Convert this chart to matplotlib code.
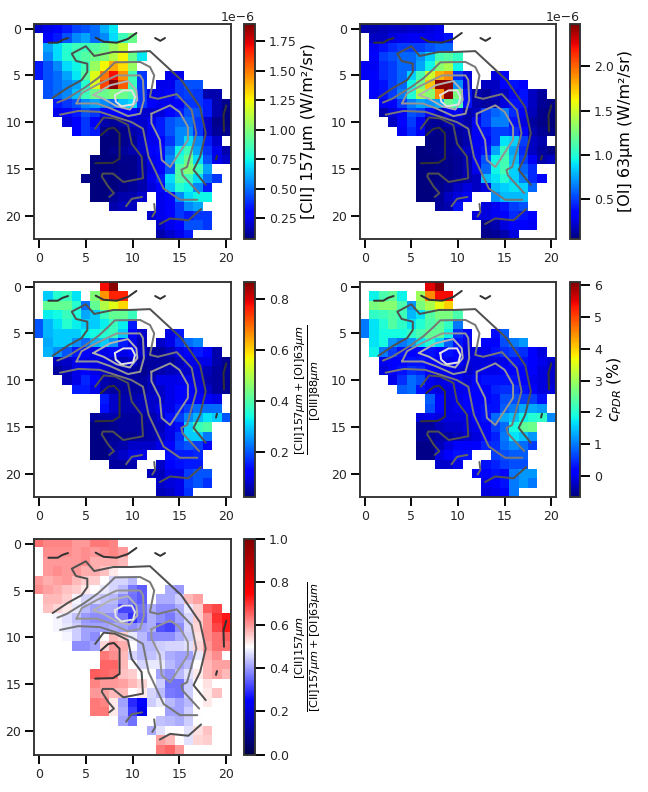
import numpy as np
import matplotlib
matplotlib.use("Agg")
import matplotlib.pyplot as plt

_ = np.nan
W, H = 648, 792

cii = [
[.20,.25,.30,.35,.42,.45,.50,.62,.72],
[_,.30,.35,.45,.55,.60,.50,.55,.70,.85,.95],
[_,.60,.70,.80,.85,.85,.90,.95,1.05,1.15],
[_,.55,.70,.80,.85,.90,.95,1.0,1.1,1.25,.95,.72],
[.35,.45,.55,.70,.75,.85,1.05,1.25,1.40,1.3,1.05],
[.35,.45,.50,.60,.72,.90,1.2,1.5,1.7,1.45,.85,.40,_,_,.25,.25],
[_,.45,.50,.55,.60,.80,1.2,1.6,1.87,1.55,.85,.40,_,.25,.25,.40,.45,.45],
[_,.45,.5,.55,.65,.85,.95,.95,1.0,.95,.9,.4,.25,.25,.3,.4,.42,.4,.15,.15],
[_,_,.35,.4,.45,.55,.6,.55,.5,.65,.7,.4,.28,.25,.25,.3,.4,.4,.35,.15,.1],
[_,_,.25,.3,.35,.45,.4,.3,.3,.3,.3,.2,.2,.22,.3,.35,.45,.45,.35,.15,.08],
[_,_,_,.22,.3,.4,.3,.15,.12,.15,.2,.2,.25,.35,.45,.5,.5,.4,.2,.1,.08],
[_,_,_,_,.3,.4,.35,.1,.08,.1,.15,.18,.25,.35,.45,.55,.55,.4,.2,.12,.1],
[_,_,_,_,_,_,_,.08,.08,.1,.12,.2,.25,.3,.4,.55,.7,.55,.35,.2],
[_,_,_,_,_,_,_,.08,.1,.12,.15,.2,.28,.32,.5,.75,.85,.6,.4,.25,.15],
[_,_,_,_,_,_,.08,.08,.08,.1,.1,.15,.25,.3,.55,.8,.95,.7,.45,.25,.2],
[_,_,_,_,_,_,.07,.07,.08,.09,.1,.15,.22,.3,.45,.9,1.0,.85,.6],
[_,_,_,_,_,.1,.07,.07,.08,.09,.1,.15,.25,.35,.7,.9,.85,.7,.5,.4],
[_,_,_,_,_,_,.07,.07,.08,.1,.12,.15,.22,.3,.65,.8,.75,.55,.35],
[_,_,_,_,_,_,.07,.07,.12,.15,.15,.2,_,.25,.3,.55,.7,.75,.75],
[_,_,_,_,_,_,_,_,.15,.18,.18,_,_,.25,.28,.4,.55,.6],
[_,_,_,_,_,_,_,_,_,_,_,_,.2,.25,.3,.4,.35,.4,.4],
[_,_,_,_,_,_,_,_,_,_,_,_,_,.2,.25,.3,.45,.45,.4],
[_,_,_,_,_,_,_,_,_,_,_,_,_,.15,.2,.25,.35],
]

oi = [
[.15,.15,.18,.2,.2,.22,.22,.25,.28],
[_,.2,.2,.25,.28,.3,.3,.28,.3,.4],
[_,.3,.4,.45,.5,.5,.5,.55,.6,.6],
[_,.35,.5,.55,.6,.6,.7,.85,1.1,1.15,1.05],
[.3,.3,.45,.5,.6,.6,.75,.95,1.3,1.4,.95],
[.3,.35,.45,.5,.6,.85,1.1,1.5,1.8,1.9,.45,.25,_,_,.25,.3],
[_,.35,.4,.5,.6,.95,1.25,1.75,2.45,2.45,.7,.25,_,.2,.2,.35,.4,.35],
[_,.35,.4,.5,.65,1,1.4,1.3,1.9,2.45,1.25,.4,.15,.12,.2,.2,.35,.4,.2,.12],
[_,_,.3,.35,.5,.65,.75,.7,.75,1.2,1.1,.4,.15,.12,.15,.25,.4,.4,.2,.1,.07],
[_,_,.15,.25,.35,.55,.5,.3,.2,.3,.3,.15,.2,.5,.6,.65,.45,.3,.18,.08,.06],
[_,_,_,.2,.35,.5,.3,.1,.1,.15,.2,.15,.3,.5,.65,.65,.4,.25,.12,.07,.05],
[_,_,_,_,.3,.45,.3,.1,.06,.08,.12,.15,.3,.4,.5,.5,.45,.35,.15,.1,.07],
[_,_,_,_,_,_,_,.06,.06,.08,.1,.15,.3,.35,.5,.9,.85,.5,.2,.15],
[_,_,_,_,_,_,.05,.06,.07,.09,.12,.2,.28,.4,.75,1.05,.75,.45,.2,.12,.08],
[_,_,_,_,_,_,.05,.05,.06,.08,.1,.15,.3,.55,.95,1.1,.8,.5,.3,.15,.2],
[_,_,_,_,_,_,.05,.05,.06,.07,.1,.15,.28,.6,.95,1.1,.85,.6,.45],
[_,_,_,_,_,_,.05,.05,.06,.08,.1,.15,.2,.8,.9,1.0,.85,.65,.45,.35],
[_,_,_,_,_,_,.05,.05,.08,.12,.2,.25,.2,.25,.8,.85,.9,.85,.6],
[_,_,_,_,_,_,.05,.05,.1,.2,.25,.3,_,_,.7,.8,.8,.8],
[_,_,_,_,_,_,_,_,.12,.15,.4,_,_,.25,.3,.4,.5,.55],
[_,_,_,_,_,_,_,_,_,_,_,_,.25,.25,.3,.35,.45,.4,.35],
[_,_,_,_,_,_,_,_,_,_,_,_,_,.1,.15,.25,.35,.35,.3],
[_,_,_,_,_,_,_,_,_,_,_,_,_,.08,.1,.15,.25],
]

ratio_oiii = [
[_,_,_,_,_,_,_,.78,.86],
[_,.30,.36,.38,.32,_,.45,.66,.76,.76],
[_,.42,.42,.42,.36,.22,.42,.5,.55,.6],
[_,.33,.34,.38,.35,.27,.3,.38,.42,.42,.38],
[.2,.28,.32,.36,.33,.3,.3,.33,.38,.33,.15],
[.2,.28,.3,.3,.3,.33,.34,.36,.38,.3,.12,.08,_,_,.1,.15],
[_,.27,.3,.3,.25,.22,.28,.3,.25,.15,.1,.07,_,.08,.1,.17,.22,.24],
[_,.28,.25,.2,.15,.12,.1,.1,.12,.1,.12,.08,.05,.05,.07,.1,.13,.15,.12,.06],
[_,_,.07,.08,.1,.1,.1,.09,.08,.07,.08,.05,.05,.05,.05,.07,.1,.1,.1,.06,.04],
[_,_,.05,.07,.1,.12,.1,.08,.06,.06,.05,.04,.05,.06,.07,.08,.08,.09,.07,.05,.04],
[_,_,_,.07,.1,.16,.13,.06,.05,.05,.05,.05,.07,.1,.1,.1,.1,.09,.06,.05,.04],
[_,_,_,_,.15,.15,.1,.06,.05,.05,.05,.05,.07,.08,.1,.12,.12,.1,.08,.05,.04],
[_,_,_,_,_,_,_,.15,.08,.06,.06,.07,.08,.08,.1,.13,.13,.12,.12,.1],
[_,_,_,_,_,_,_,.14,.08,.06,.06,.07,.08,.1,.1,.15,.18,.22,.22,.22],
[_,_,_,_,_,_,.05,.06,.06,.05,.05,.05,.06,.08,.14,.18,.24,.28,.32,.3,.2],
[_,_,_,_,_,_,.03,.03,.04,.05,.05,.05,.06,.07,.1,.14,.3,.38,.4],
[_,_,_,_,_,_,.03,.03,.04,.04,.04,.05,.06,.08,.1,.17,.3,.3,.23],
[_,_,_,_,_,_,.03,.03,.05,.06,.08,.08,.08,.1,.12,.18,.2,.18,.12],
[_,_,_,_,_,_,.03,.03,.06,.08,.1,.1,_,_,.14,.15,.15,.16],
[_,_,_,_,_,_,_,_,.05,.05,.06,_,_,.08,.12,.14,.15,.15],
[_,_,_,_,_,_,_,_,_,_,_,_,.07,.07,.1,.1,.18,.2,.2],
[_,_,_,_,_,_,_,_,_,_,_,_,_,.08,.09,.1,.18,.2,.17],
[_,_,_,_,_,_,_,_,_,_,_,_,_,.07,.08,.1,.17],
]

c_pdr = [
[_,_,_,_,_,_,_,5.5,6.0],
[_,1.8,2.3,2.5,1.8,_,3.0,4.5,5.4,5.4],
[_,2.7,2.8,2.8,2.3,1.2,2.7,3.1,3.6,4.0],
[_,2.1,2.2,2.4,2.2,1.4,1.7,2.4,2.7,2.7,2.3],
[1.0,1.7,2.0,2.4,2.1,1.7,2.0,2.3,2.5,2.1,1.0],
[1.0,1.7,1.9,1.9,1.9,2.1,2.3,2.5,2.5,1.8,.5,.1,_,_,.25,.8],
[_,1.7,1.9,1.2,1.0,1.2,1.7,2.0,1.6,.8,.3,0,_,.1,.2,.7,1.0,1.2],
[_,1.8,1,.6,.3,.2,.2,.3,.2,.3,.1,-.1,-.1,0,.3,.5,.6,.5,.1,-.1],
[_,_,0,.1,.2,.3,.3,.2,.1,0,.1,-.1,-.1,-.1,-.1,0,.3,.3,.2,0,-.2],
[_,_,-.1,.1,.3,.5,.4,.1,0,0,-.1,-.2,-.1,0,0,.1,.2,.2,.1,-.1,-.2],
[_,_,_,0,.5,.9,.7,0,-.1,0,0,-.1,.1,.3,.3,.3,.3,.2,0,-.1,-.2],
[_,_,_,_,.8,.9,.3,0,-.1,-.1,0,0,.1,.2,.4,.5,.5,.3,.2,-.1,-.1],
[_,_,_,_,_,_,_,.8,.2,-.1,0,.1,.1,.1,.3,.7,.7,.6,.6,.3],
[_,_,_,_,_,_,_,.7,.1,-.1,0,.1,.2,.3,.3,.8,1,1.3,1.3,1.2],
[_,_,_,_,_,_,-.1,0,-.1,-.1,-.1,-.1,.1,.3,.9,1.3,1.5,1.8,2,2.1,1.1],
[_,_,_,_,_,_,-.5,-.5,-.3,-.2,-.2,-.1,0,.2,.6,.9,1.9,2.5,2.6],
[_,_,_,_,_,_,-.5,-.5,-.4,-.4,-.3,-.2,-.1,.1,.4,1,1.7,1.5,1.2],
[_,_,_,_,_,_,-.6,-.6,-.3,-.1,.1,.1,.1,.4,.5,.9,1.1,.9,.6],
[_,_,_,_,_,_,-.6,-.6,-.1,.1,.3,.3,_,_,.6,.7,.8,.8],
[_,_,_,_,_,_,_,_,-.2,-.2,0,_,_,.3,.4,.6,.7,.7],
[_,_,_,_,_,_,_,_,_,_,_,_,.1,.1,.3,.2,1,1.2,1.2],
[_,_,_,_,_,_,_,_,_,_,_,_,_,0,.1,.3,1,1.2,1],
[_,_,_,_,_,_,_,_,_,_,_,_,_,-.1,0,.2,1],
]

ratio_cii = [
[.64,.62,.62,.62,.6,.6,.63,.63,.62],
[_,.61,.61,.61,.6,.61,.6,.61,.62,.6],
[_,.6,.6,.6,.6,.61,.58,.58,.58,.57],
[_,.6,.61,.6,.6,.58,.58,.56,.52,.5,.5],
[.6,.58,.59,.6,.57,.55,.55,.5,.46,.46,.43],
[.61,.59,.58,.56,.55,.52,.5,.48,.46,.43,.37,.34,_,_,.42,.4],
[_,.57,.57,.55,.49,.46,.46,.44,.43,.39,.36,.34,_,.42,.42,.45,.57,.59],
[_,.56,.54,.52,.48,.43,.41,.42,.42,.32,.32,.36,.42,.39,.39,.42,.48,.55,.66,.68],
[_,_,.49,.47,.44,.4,.39,.39,.39,.37,.3,.35,.42,.39,.37,.41,.46,.55,.61,.7,.73],
[_,_,.49,.48,.45,.41,.41,.41,.42,.41,.39,.41,.42,.33,.32,.39,.46,.54,.61,.68,.73],
[_,_,_,.49,.45,.41,.39,.5,.57,.55,.48,.43,.39,.39,.39,.42,.45,.53,.61,.64,.66],
[_,_,_,_,.39,.39,.41,.54,.6,.58,.5,.43,.43,.45,.46,.46,.47,.54,.6,.64,.64],
[_,_,_,_,_,_,_,.63,.61,.57,.46,.43,.44,.46,.42,.41,.41,.48,.58,.61],
[_,_,_,_,_,_,_,.65,.65,.57,.5,.46,.48,.48,.43,.41,.43,.5,.57,.59,.59],
[_,_,_,_,_,_,.66,.65,.64,.56,.55,.5,.5,.41,.39,.43,.47,.52,.57,.59,.57],
[_,_,_,_,_,_,.62,.6,.6,.59,.57,.54,.5,.45,.36,.36,.45,.5,.53],
[_,_,_,_,_,_,.6,.59,.57,.57,.5,.52,.46,.43,.37,.36,.45,.5,.52,.56],
[_,_,_,_,_,_,.63,.62,.52,.41,.29,.25,.45,.48,.43,.41,.43,.5,.52],
[_,_,_,_,_,_,.63,.63,.52,.42,.31,.23,_,_,.41,.41,.45,.5],
[_,_,_,_,_,_,_,_,.5,.41,.36,_,_,.44,.43,.42,.45,.5],
[_,_,_,_,_,_,_,_,_,_,_,_,.42,.47,.5,.5,.47,.53,.56],
[_,_,_,_,_,_,_,_,_,_,_,_,_,.59,.57,.5,.47,.54,.55],
[_,_,_,_,_,_,_,_,_,_,_,_,_,.63,.65,.6],
]

# Contour polylines (x, y in data coordinates) with their grey level
contour_a1 = [(1,1.5),(2,1.5),(2.5,1.2),(3.1,1.0)]
contour_a2 = [(6.05,.96),(6.9,1.4),(8.3,1.5),(9.5,1.1),(10.4,.46)]
contour_a3 = [(12.4,1),(12.95,1.3),(13.45,1)]
contour_a4 = [(6,14.4),(7.9,14.35),(8.6,13.9),(8.6,11.2),(8,10.6),(7.4,10.7),(6.6,11.4)]
contour_a5 = [(20,8.2),(19.7,9.25),(19.75,11)]
contour_a6 = [(18.9,14),(19,13.6)]
contour_b1 = [(1.46,7.4),(3.1,6.3),(4.55,5.5),(5.16,4.63),(5.16,3.74),(3.95,3.45),(3.5,2.67),(5.0,1.88),
              (5.9,2.92),(7.94,2.49),(9.7,2.49),(11.85,2.4),(13.3,3.74),(15.2,5.5),(17.2,8.4),(17.8,11.2),
              (17.2,13.7),(16.5,15.1),(17.8,16.7)]
contour_b2 = [(7.5,18),(8,17.6),(7.4,16.9),(6.7,15.8),(6.8,15.5),(7.9,15.5),(9,16.4),(11.1,16),(10.96,13.7),
              (9.9,12.3),(9.5,10.3),(8.1,9.6),(6.9,9.5),(6,10.7)]
contour_b3 = [(9.3,19),(9.9,18.2),(11,18)]
contour_b4 = [(12.3,18.75),(12.4,19.6),(12.1,20.1)]
contour_b5 = [(12.9,20.9),(14,20.3),(15.95,20.5),(17.3,19.3)]
contour_c1 = [(1.96,7.9),(2.95,7.5),(4.9,6.3),(6.3,5.3),(7.4,4.3),(8.1,3.6),(10.8,3.56),(11.85,4.1),(12.3,5),
              (11.85,7.3),(12.7,7.5),(14.7,7),(16.3,8.7),(16.8,11.2),(15.8,14.8),(15.2,15.1),(15.35,15.7),(17.1,17.6)]
contour_c2 = [(2.25,9.2),(4.2,8.8),(6.5,8.9),(9.9,10),(11.1,10.7),(11.7,13.7),(13.3,17.1),(15.05,18.3),(16.9,18.3)]
contour_d1 = [(4,8),(4.55,6.9),(6.2,6),(8.3,5),(10.8,5),(11.1,5.5),(11.2,7.65),(10.8,9.1),(9.5,9.35),(7.6,8.5),(6.2,8),(4,8)]
contour_d2 = [(12,9.1),(14,8.2),(15,8.9),(15.9,10.5),(15.9,11.9),(14,14.8),(13.1,14.05),(12.9,11.9),(12,10.1),(12,9.1)]
contour_e = [(5.8,7.1),(7.6,6.05),(9.5,5.6),(10.4,6.6),(10.5,7.65),(9.7,8.65),(8.3,8.3),(6.9,7.5),(5.8,7.1)]
contour_f = [(8.1,7.1),(9,6.6),(9.9,6.6),(10.25,7.3),(10.05,8.1),(8.8,8.3),(8.2,7.8),(8.1,7.1)]

contours = [
    (contour_a1, '#333333'), (contour_a2, '#333333'), (contour_a3, '#333333'), (contour_a4, '#333333'),
    (contour_a5, '#333333'), (contour_a6, '#333333'),
    (contour_b1, '#505050'), (contour_b2, '#505050'), (contour_b3, '#666666'), (contour_b4, '#666666'), (contour_b5, '#505050'),
    (contour_c1, '#777777'), (contour_c2, '#777777'),
    (contour_d1, '#949494'), (contour_d2, '#949494'),
    (contour_e, '#b2b2b2'), (contour_f, '#e2e2e2'),
]

def grid(rows, scale=1.0):
    a = np.full((23, 21), np.nan)
    for i, r in enumerate(rows):
        a[i, :len(r)] = r
    return a * scale

DARK = '#333333'
plt.rcParams.update({
    'font.family': 'DejaVu Sans', 'font.size': 12.5, 'mathtext.default': 'it',
    'xtick.major.size': 9, 'ytick.major.size': 9, 'xtick.major.width': 1.9, 'ytick.major.width': 1.9,
    'xtick.labelsize': 12.5, 'ytick.labelsize': 12.5, 'xtick.major.pad': 4, 'ytick.major.pad': 4,
    'text.color': '#262626', 'xtick.labelcolor': '#262626', 'ytick.labelcolor': '#262626',
})
fig = plt.figure(figsize=(W/72, H/72), dpi=72)

def box(l, t, r, b):
    return [l/W, 1-b/H, (r-l)/W, (b-t)/H]

panels = [
    dict(d=grid(cii, 1e-6), cmap='jet', vmin=.075e-6, vmax=1.897e-6, ax=(34.3,24,231,239), cax=(243.5,24,255,239),
         ticks=[v*1e-6 for v in (.25,.5,.75,1,1.25,1.5,1.75)], label='[CII] 157µm (W/m²/sr)', off=True),
    dict(d=grid(oi, 1e-6), cmap='jet', vmin=.05e-6, vmax=2.48e-6, ax=(360,24,556,239), cax=(569.5,24,580,239),
         ticks=[v*1e-6 for v in (.5,1,1.5,2)], label='[OI] 63µm (W/m²/sr)', off=True),
    dict(d=grid(ratio_oiii), cmap='jet', vmin=.024, vmax=.868, ax=(34.3,282,231,497), cax=(243.5,282,255,497),
         ticks=[.2,.4,.6,.8], label=r'$\frac{[\mathrm{CII}]157\mu m + [\mathrm{OI}]63\mu m}{[\mathrm{OIII}]88\mu m}$', off=False),
    dict(d=grid(c_pdr), cmap='jet', vmin=-.66, vmax=6.1, ax=(360,282,556,497), cax=(569.5,282,580,497),
         ticks=[0,1,2,3,4,5,6], label=r'$c_{PDR}$ (%)', off=False),
    dict(d=grid(ratio_cii), cmap='seismic', vmin=0, vmax=1, ax=(34.3,539,231,754.5), cax=(243.5,539,255,754.5),
         ticks=[0,.2,.4,.6,.8,1.0], label=r'$\frac{[\mathrm{CII}]157\mu m}{[\mathrm{CII}]157\mu m + [\mathrm{OI}]63\mu m}$', off=False),
]

for p in panels:
    ax = fig.add_axes(box(*p['ax']))
    im = ax.imshow(p['d'], cmap=p['cmap'], vmin=p['vmin'], vmax=p['vmax'], interpolation='nearest', aspect='auto')
    for pts, col in contours:
        xy = np.array(pts)
        ax.plot(xy[:, 0], xy[:, 1], color=col, lw=2.0, solid_joinstyle='round', solid_capstyle='round')
    ax.set_xlim(-.5, 20.5)
    ax.set_ylim(22.5, -.5)
    ax.set_xticks([0, 5, 10, 15, 20])
    ax.set_yticks([0, 5, 10, 15, 20])
    for s in ax.spines.values():
        s.set_linewidth(1.9)
        s.set_color(DARK)
    cax = fig.add_axes(box(*p['cax']))
    cb = fig.colorbar(im, cax=cax, ticks=p['ticks'])
    cb.outline.set_linewidth(1.9)
    cb.outline.set_edgecolor(DARK)
    cb.ax.tick_params(length=10, width=1.9)
    cb.set_label(p['label'], fontsize=16, labelpad=4)
    if p['off']:
        cb.ax.yaxis.get_offset_text().set_fontsize(12.5)
    elif p['vmin'] < 0:
        cb.ax.set_yticklabels(['%d' % t for t in p['ticks']])
    else:
        cb.ax.set_yticklabels(['%.1f' % t for t in p['ticks']])

fig.savefig('out.png', dpi=72)
